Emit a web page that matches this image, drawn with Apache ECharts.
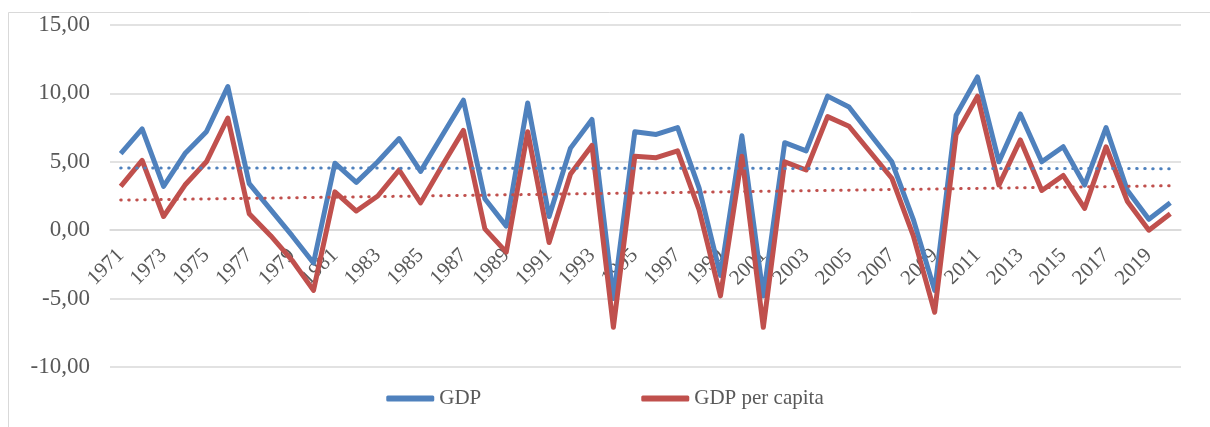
<!DOCTYPE html>
<html>
<head>
<meta charset="utf-8">
<script src="https://cdn.jsdelivr.net/npm/echarts@6/dist/echarts.min.js"></script>
<style>
html,body{margin:0;padding:0;background:#fff;}
#chart{width:1210px;height:427px;}
</style>
</head>
<body>
<div id="chart"></div>
<script>
const years = [];
for (let y = 1971; y <= 2020; y++) years.push(String(y));

const gdp = [5.6, 7.4, 3.2, 5.6, 7.2, 10.5, 3.4, 1.5, -0.4, -2.4,
  4.9, 3.5, 5.0, 6.7, 4.3, 6.9, 9.5, 2.3, 0.3, 9.3,
  1.0, 6.0, 8.1, -5.0, 7.2, 7.0, 7.5, 3.1, -3.3, 6.9,
  -4.8, 6.4, 5.8, 9.8, 9.0, 7.0, 5.0, 0.8, -4.4, 8.4,
  11.2, 5.0, 8.5, 5.0, 6.1, 3.3, 7.5, 2.9, 0.8, 2.0];

const gdpPerCapita = [3.2, 5.1, 1.0, 3.3, 5.0, 8.2, 1.2, -0.4, -2.2, -4.4,
  2.8, 1.4, 2.5, 4.4, 2.0, 4.7, 7.3, 0.1, -1.6, 7.2,
  -0.9, 4.1, 6.2, -7.1, 5.4, 5.3, 5.8, 1.5, -4.8, 5.4,
  -7.1, 5.0, 4.4, 8.3, 7.6, 5.7, 3.8, -0.4, -6.0, 7.0,
  9.8, 3.3, 6.6, 2.9, 4.0, 1.6, 6.1, 2.1, 0.0, 1.2];

// Linear trend lines (start / end values)
const trendGdp = [4.55, 4.5];
const trendGdpPerCapita = [2.2, 3.25];

const yTicks = { min: -10, max: 15, interval: 5 };

const blue = '#4f81bd';
const red = '#c0504d';
const font = '"Liberation Serif", "Times New Roman", serif';

function trendSeries(name, vals, color) {
  return {
    name: name,
    type: 'line',
    silent: true,
    symbol: 'none',
    data: [],
    markLine: {
      silent: true,
      symbol: ['none', 'none'],
      label: { show: false },
      lineStyle: { color: color, width: 3, type: [0.5, 7.5], cap: 'round' },
      data: [[
        { coord: [years[0], vals[0]] },
        { coord: [years[years.length - 1], vals[1]] }
      ]]
    }
  };
}

// grid geometry
const gridTop = 25, gridBottom = 60, chartH = 427;
const plotH = chartH - gridTop - gridBottom;
const zeroOffset = -plotH * (0 - yTicks.min) / (yTicks.max - yTicks.min);

const chart = echarts.init(document.getElementById('chart'));
chart.setOption({
  animation: false,
  backgroundColor: '#fff',
  textStyle: { fontFamily: font },
  graphic: [{
    type: 'rect',
    shape: { x: 8.5, y: 12.5, width: 1220, height: 430 },
    style: { fill: 'none', stroke: '#d9d9d9', lineWidth: 1 },
    silent: true,
    z: -10
  }],
  grid: { left: 110, right: 29, top: gridTop, bottom: gridBottom, containLabel: false },
  legend: {
    data: ['GDP', 'GDP per capita'],
    bottom: 13,
    left: 'center',
    itemWidth: 48,
    itemHeight: 6,
    itemGap: 160,
    icon: 'roundRect',
    textStyle: { fontFamily: font, fontSize: 21, color: '#595959' }
  },
  xAxis: {
    type: 'category',
    data: years,
    boundaryGap: true,
    offset: zeroOffset,
    axisLine: { show: true, onZero: false, lineStyle: { color: '#d9d9d9', width: 1.5 } },
    axisTick: { show: false },
    axisLabel: {
      interval: 1,
      rotate: 45,
      margin: 22,
      fontFamily: font,
      fontSize: 21,
      color: '#595959'
    },
    splitLine: { show: false }
  },
  yAxis: {
    type: 'value',
    min: yTicks.min,
    max: yTicks.max,
    interval: yTicks.interval,
    axisLine: { show: false },
    axisTick: { show: false },
    axisLabel: {
      margin: 20,
      fontFamily: font,
      fontSize: 23,
      color: '#595959',
      formatter: v => v.toFixed(2).replace('.', ',')
    },
    splitLine: { lineStyle: { color: '#d9d9d9', width: 1.5 } }
  },
  series: [
    {
      name: 'GDP',
      type: 'line',
      data: gdp,
      symbol: 'none',
      z: 3,
      lineStyle: { color: blue, width: 5, join: 'round' },
      itemStyle: { color: blue }
    },
    {
      name: 'GDP per capita',
      type: 'line',
      data: gdpPerCapita,
      symbol: 'none',
      z: 4,
      lineStyle: { color: red, width: 5, join: 'round' },
      itemStyle: { color: red }
    },
    trendSeries('Linear (GDP)', trendGdp, blue),
    trendSeries('Linear (GDP per capita)', trendGdpPerCapita, red)
  ]
});
</script>
</body>
</html>
